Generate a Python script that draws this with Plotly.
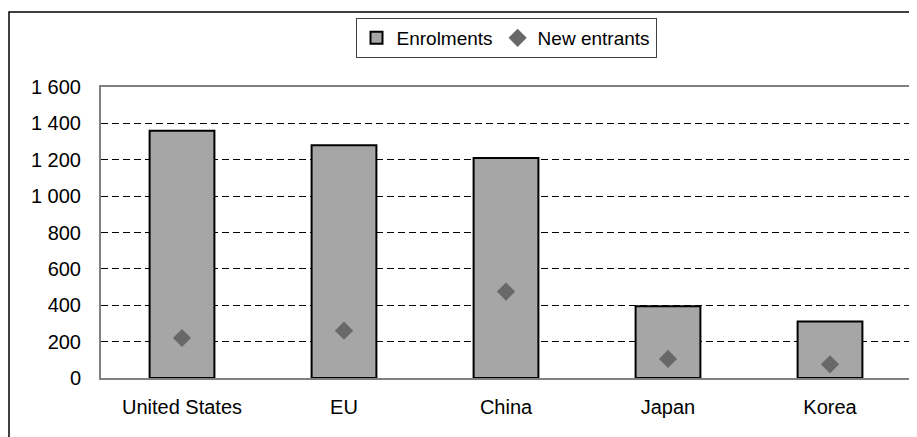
import plotly.graph_objects as go

# data (thousands of students)
countries = ["United States", "EU", "China", "Japan", "Korea"]
enrolments = [1360, 1280, 1210, 395, 310]
new_entrants = [220, 260, 475, 105, 75]

y_ticks = [0, 200, 400, 600, 800, 1000, 1200, 1400, 1600]
y_tick_labels = ["0", "200", "400", "600", "800", "1 000", "1 200", "1 400", "1 600"]

fig = go.Figure()

fig.add_trace(go.Bar(x=countries, y=enrolments, name="Enrolments",
                     marker_color="#A6A6A6",
                     marker_line_color="black", marker_line_width=2,
                     width=0.4))

fig.add_trace(go.Scatter(x=countries, y=new_entrants, name="New entrants",
                         mode="markers",
                         marker_symbol="diamond", marker_size=14,
                         marker_color="#686868"))

# the page body adds an 8px offset, so the plot area 101..911 x 87..378
# on screen is 93..903 x 79..370 inside the figure
L, R, T, B = 93, 14, 79, 67
pw, ph = 917 - L - R, 437 - T - B

fig.update_layout(
    width=917, height=437,
    margin=dict(l=L, r=R, t=T, b=B, autoexpand=False),
    paper_bgcolor="white", plot_bgcolor="white",
    font=dict(family="Liberation Sans, Arial, sans-serif", size=20, color="black"),
    showlegend=True,
    legend=dict(orientation="h", x=0.5, xanchor="center",
                y=1 + (T - 10) / ph, yanchor="top",
                bordercolor="#404040", borderwidth=1,
                font=dict(size=19), itemwidth=30,
                tracegroupgap=0, traceorder="normal"),
    bargap=0.6,
)

fig.update_xaxes(showline=True, mirror=True, linecolor="#808080", linewidth=2,
                 showgrid=False, ticks="", ticklabelstandoff=10,
                 tickfont=dict(size=20), automargin=False)
fig.update_yaxes(range=[0, 1600], tickvals=y_ticks, ticktext=y_tick_labels,
                 showline=True, mirror=True, linecolor="#808080", linewidth=2,
                 showgrid=True, gridcolor="black", gridwidth=1, griddash="7px,4px",
                 zeroline=False, ticks="", ticklabelstandoff=14,
                 tickfont=dict(size=20), automargin=False)

# outer chart border (runs off the bottom and right of the picture)
fig.add_shape(type="rect", xref="paper", yref="paper",
              x0=(1 - L) / pw, x1=(930 - L) / pw,
              y0=-(B + 10) / ph, y1=1 + (T - 4) / ph,
              line=dict(color="black", width=1.5), fillcolor="rgba(0,0,0,0)",
              layer="below")

fig.write_html("out.html")
